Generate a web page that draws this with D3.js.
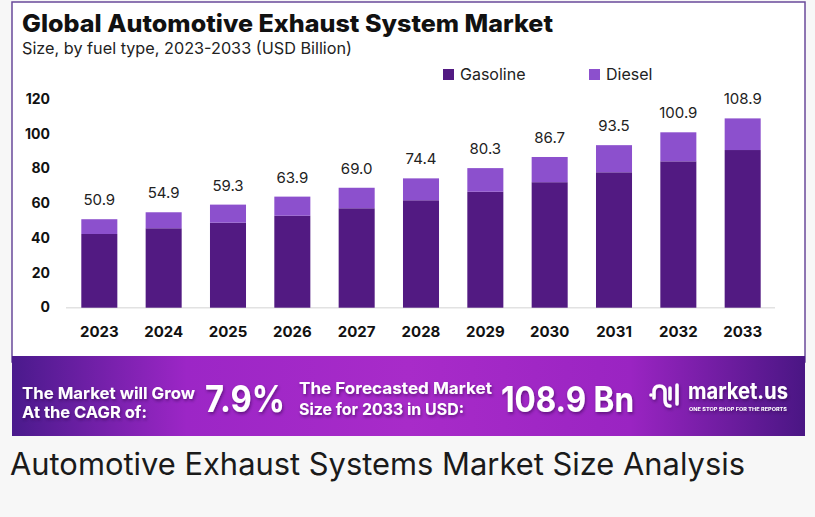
<!DOCTYPE html>
<html>
<head>
<meta charset="utf-8">
<script src="https://cdn.jsdelivr.net/npm/d3@7"></script>
<style>
  html, body { margin: 0; padding: 0; background: #f7f7f7; }
  svg { display: block; }
  text { font-family: Inter, "Noto Sans", sans-serif; }
</style>
</head>
<body>
<svg id="chart" width="815" height="517"></svg>
<script>
const years = ['2023', '2024', '2025', '2026', '2027', '2028', '2029', '2030', '2031', '2032', '2033'];
const gasoline = [42.4, 45.7, 48.9, 52.9, 57.2, 61.8, 66.7, 72.2, 77.9, 84.2, 90.7];
const diesel = [8.5, 9.2, 10.4, 11.0, 11.8, 12.6, 13.6, 14.5, 15.6, 16.7, 18.2];
const totalLabels = ['50.9', '54.9', '59.3', '63.9', '69.0', '74.4', '80.3', '86.7', '93.5', '100.9', '108.9'];
const yTicks = [0, 20, 40, 60, 80, 100, 120];
const seriesNames = ['Gasoline', 'Diesel'];
const colors = ['#521a82', '#8c50cd'];

const svg = d3.select('#chart');

const defs = svg.append('defs');
const grad = defs.append('linearGradient').attr('id', 'band');
[['0%', '#4a1a8c'], ['22%', '#9c26c6'], ['50%', '#a82bc9'], ['78%', '#9a24c2'], ['100%', '#4a1684']]
  .forEach(([o, c]) => grad.append('stop').attr('offset', o).attr('stop-color', c));
defs.append('filter').attr('id', 'shadow').attr('x', '-20%').attr('y', '-30%').attr('width', '140%').attr('height', '160%')
  .append('feDropShadow').attr('dx', 1).attr('dy', 2).attr('stdDeviation', 1.5)
  .attr('flood-color', '#2a0040').attr('flood-opacity', 0.5);

// card
svg.append('rect')
  .attr('x', 12).attr('y', 2).attr('width', 793).attr('height', 360)
  .attr('fill', '#fff').attr('stroke', '#6a4a9a').attr('stroke-width', 1.5);

// titles
svg.append('text').attr('x', 22).attr('y', 32)
  .attr('font-size', 24).attr('font-weight', 800).attr('fill', '#111')
  .attr('textLength', 531).attr('lengthAdjust', 'spacingAndGlyphs')
  .text('Global Automotive Exhaust System Market');
svg.append('text').attr('x', 22).attr('y', 54)
  .attr('font-size', 16.5).attr('fill', '#222')
  .attr('textLength', 330).attr('lengthAdjust', 'spacingAndGlyphs')
  .text('Size, by fuel type, 2023-2033 (USD Billion)');

// legend
const legendX = [443, 589];
seriesNames.forEach((name, i) => {
  svg.append('rect').attr('x', legendX[i]).attr('y', 69).attr('width', 11).attr('height', 11).attr('fill', colors[i]);
  svg.append('text').attr('x', legendX[i] + 17).attr('y', 80)
    .attr('font-size', 16).attr('fill', '#222').text(name);
});

// scales
const x = d3.scaleBand().domain(years).range([53, 789]).padding(0.44);
const y = d3.scaleLinear().domain([0, 120]).range([307.7, 99.1]);

const table = years.map((yr, i) => ({ year: yr, Gasoline: gasoline[i], Diesel: diesel[i] }));
const stacked = d3.stack().keys(seriesNames)(table);

// baseline
svg.append('line').attr('x1', 66).attr('x2', 775).attr('y1', y(0)).attr('y2', y(0))
  .attr('stroke', '#e2e2e2').attr('stroke-width', 1.5);

svg.append('g').selectAll('g')
  .data(stacked)
  .join('g')
  .attr('fill', (d, i) => colors[i])
  .selectAll('rect')
  .data(d => d)
  .join('rect')
  .attr('x', d => x(d.data.year))
  .attr('y', d => y(d[1]))
  .attr('width', x.bandwidth())
  .attr('height', d => y(d[0]) - y(d[1]));

// value labels
svg.append('g').selectAll('text')
  .data(stacked[1])
  .join('text')
  .attr('x', d => x(d.data.year) + x.bandwidth() / 2)
  .attr('y', d => y(d[1]) - 14)
  .attr('text-anchor', 'middle')
  .attr('font-size', 15).attr('fill', '#222')
  .text((d, i) => totalLabels[i]);

// y axis
const yAxis = svg.append('g')
  .attr('transform', 'translate(50,0)')
  .call(d3.axisLeft(y).tickValues(yTicks).tickSize(0).tickPadding(0));
yAxis.select('.domain').remove();
yAxis.selectAll('text')
  .attr('font-family', 'Inter, sans-serif').attr('font-size', 14).attr('font-weight', 700)
  .attr('fill', '#111').attr('dy', '0.3em');

// x axis
const xAxis = svg.append('g')
  .attr('transform', `translate(0,${y(0)})`)
  .call(d3.axisBottom(x).tickSize(0).tickPadding(0));
xAxis.select('.domain').remove();
xAxis.selectAll('text')
  .attr('font-family', 'Inter, sans-serif').attr('font-size', 15).attr('font-weight', 700)
  .attr('fill', '#111').attr('dy', 0).attr('y', 29.5);

// banner
svg.append('rect').attr('x', 12).attr('y', 356).attr('width', 793).attr('height', 80).attr('fill', 'url(#band)');

const banner = svg.append('g').attr('fill', '#fff').attr('filter', 'url(#shadow)');
banner.append('text').attr('x', 22).attr('y', 399).attr('font-size', 16.5).attr('font-weight', 700)
  .attr('textLength', 173).attr('lengthAdjust', 'spacingAndGlyphs').text('The Market will Grow');
banner.append('text').attr('x', 22).attr('y', 418).attr('font-size', 16.5).attr('font-weight', 700)
  .attr('textLength', 125).attr('lengthAdjust', 'spacingAndGlyphs').text('At the CAGR of:');
banner.append('text').attr('x', 205).attr('y', 412).attr('font-size', 37).attr('font-weight', 700)
  .attr('textLength', 80).attr('lengthAdjust', 'spacingAndGlyphs').text('7.9%');
banner.append('text').attr('x', 299).attr('y', 394).attr('font-size', 16.5).attr('font-weight', 700)
  .attr('textLength', 193).attr('lengthAdjust', 'spacingAndGlyphs').text('The Forecasted Market');
banner.append('text').attr('x', 299).attr('y', 415).attr('font-size', 16.5).attr('font-weight', 700)
  .attr('textLength', 165).attr('lengthAdjust', 'spacingAndGlyphs').text('Size for 2033 in USD:');
banner.append('text').attr('x', 501).attr('y', 412).attr('font-size', 35).attr('font-weight', 700)
  .attr('textLength', 133).attr('lengthAdjust', 'spacingAndGlyphs').text('108.9 Bn');

// logo
const logo = banner.append('g').attr('fill', 'none').attr('stroke', '#fff')
  .attr('stroke-width', 3.5).attr('stroke-linecap', 'round');
logo.append('circle').attr('cx', 651).attr('cy', 395).attr('r', 1.8).attr('fill', '#fff').attr('stroke', 'none');
logo.append('path').attr('d', 'M654,398 L654,392 Q654,386 659.5,386 Q665,386 665,392 L665,400 Q665,406 670,406');
logo.append('path').attr('d', 'M670,388 L670,399');
logo.append('path').attr('d', 'M677,385 L677,404');
banner.append('text').attr('x', 688).attr('y', 399).attr('font-size', 23).attr('font-weight', 700)
  .attr('textLength', 100).attr('lengthAdjust', 'spacingAndGlyphs').text('market.us');
banner.append('text').attr('x', 689).attr('y', 411).attr('font-size', 5).attr('font-weight', 700)
  .attr('textLength', 98).attr('lengthAdjust', 'spacingAndGlyphs').text('ONE STOP SHOP FOR THE REPORTS');

// caption
svg.append('text').attr('x', 10).attr('y', 475)
  .attr('font-family', '"Open Sans", sans-serif').attr('font-size', 31).attr('fill', '#1a1a1a')
  .attr('textLength', 735).attr('lengthAdjust', 'spacingAndGlyphs')
  .text('Automotive Exhaust Systems Market Size Analysis');
</script>
</body>
</html>
